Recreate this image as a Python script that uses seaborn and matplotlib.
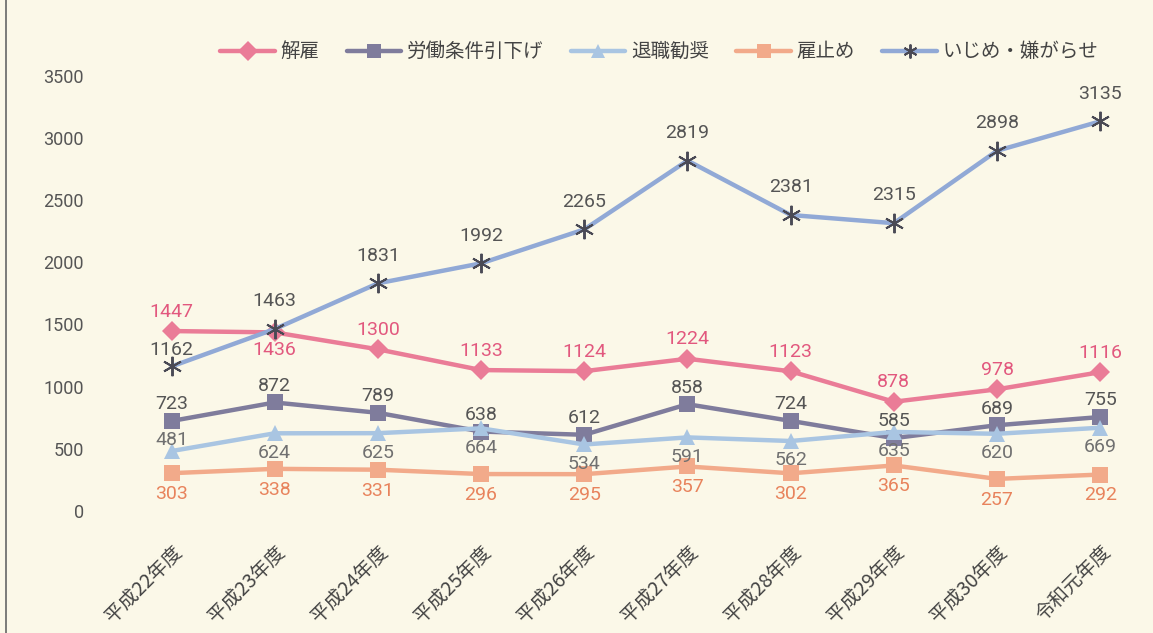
import pandas as pd
import matplotlib.pyplot as plt
import seaborn as sns

# data
years = ['平成22年度', '平成23年度', '平成24年度', '平成25年度', '平成26年度',
         '平成27年度', '平成28年度', '平成29年度', '平成30年度', '令和元年度']
kaiko = [1447, 1436, 1300, 1133, 1124, 1224, 1123, 878, 978, 1116]
roudou = [723, 872, 789, 638, 612, 858, 724, 585, 689, 755]
taishoku = [481, 624, 625, 664, 534, 591, 562, 635, 620, 669]
yatoidome = [303, 338, 331, 296, 295, 357, 302, 365, 257, 292]
ijime = [1162, 1463, 1831, 1992, 2265, 2819, 2381, 2315, 2898, 3135]

series = {'解雇': kaiko, '労働条件引下げ': roudou, '退職勧奨': taishoku,
          '雇止め': yatoidome, 'いじめ・嫌がらせ': ijime}

sns.set_style('white')
plt.rcParams['font.family'] = ['Noto Sans CJK JP', 'DejaVu Sans']
num_font = 'Roboto'

bg = '#fbf8e8'
palette = {'解雇': '#ea7c97', '労働条件引下げ': '#7f7c9c', '退職勧奨': '#a9c5e2',
           '雇止め': '#f2aa8a', 'いじめ・嫌がらせ': '#91a9d6'}
markers = {'解雇': 'D', '労働条件引下げ': 's', '退職勧奨': '^',
           '雇止め': 's', 'いじめ・嫌がらせ': (6, 2, 0)}
msizes = {'解雇': 10, '労働条件引下げ': 12, '退職勧奨': 11, '雇止め': 12, 'いじめ・嫌がらせ': 14}

fig = plt.figure(figsize=(11.53, 6.33), dpi=100, facecolor=bg)
ax = fig.add_axes([0.104, 0.193, 0.895, 0.687])
ax.set_facecolor(bg)

x = list(range(len(years)))
for name, vals in series.items():
    star = name == 'いじめ・嫌がらせ'
    sns.lineplot(x=x, y=vals, color=palette[name], marker=markers[name],
                 markersize=msizes[name], linewidth=3.2, ax=ax,
                 markeredgewidth=1.4 if star else 0,
                 markeredgecolor='#4a4a55' if star else palette[name])

# value labels, offsets in points
c_pink, c_gray, c_org = '#e2587e', '#555555', '#e8835c'
lab = dict(textcoords='offset points', ha='center', va='center', fontsize=14,
           family=num_font)
for i in x:
    ax.annotate(str(kaiko[i]), (i, kaiko[i]), xytext=(0, -13 if i == 1 else 14),
                color=c_pink, **lab)
    ax.annotate(str(roudou[i]), (i, roudou[i]), xytext=(0, 12), color=c_gray, **lab)
    ax.annotate(str(taishoku[i]), (i, taishoku[i]), xytext=(0, 8 if i == 0 else -14),
                color='#707070', **lab)
    ax.annotate(str(yatoidome[i]), (i, yatoidome[i]), xytext=(0, -15), color=c_org, **lab)
    ax.annotate(str(ijime[i]), (i, ijime[i]), xytext=(0, 12 if i == 0 else 20),
                color=c_gray, **lab)

ax.set_xlim(-0.5, 9.5)
ax.set_ylim(0, 3500)
ax.set_yticks(range(0, 3501, 500))
ax.tick_params(axis='y', colors='#555555', labelsize=13, length=0, pad=26)
for t in ax.get_yticklabels():
    t.set_family(num_font)
ax.set_xticks(x)
ax.set_xticklabels(years, rotation=45, ha='right', rotation_mode='anchor',
                   color='#444444', fontsize=14)
ax.tick_params(axis='x', length=0, pad=22)
ax.set_xlabel('')
ax.set_ylabel('')
sns.despine(ax=ax, left=True, bottom=True)

# legend across the top
handles = [plt.Line2D([], [], color=palette[k], marker=markers[k], lw=3.2, ms=10,
                      markeredgewidth=1.4 if k == 'いじめ・嫌がらせ' else 0,
                      markeredgecolor='#4a4a55')
           for k in series]
fig.legend(handles, list(series), loc='center', bbox_to_anchor=(0.572, 0.918), ncol=5,
           frameon=False, fontsize=14, handlelength=2.8, columnspacing=1.4,
           handletextpad=0.3, labelcolor='#444444')

fig.add_artist(plt.Line2D([0.005, 0.005], [0, 1], color='#666666', lw=1.2))

fig.savefig('out.png', dpi=100, facecolor=bg)
